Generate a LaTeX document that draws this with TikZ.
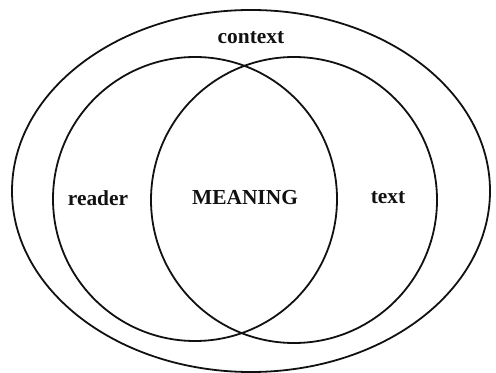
\documentclass[tikz,border=0pt]{standalone}
\usepackage{fontspec}
\setmainfont{Liberation Serif}
\usepackage{xcolor}
\definecolor{inkblack}{HTML}{111111}
\usepackage{tikz}
\usetikzlibrary{positioning}
\tikzset{
  ring/.style ={draw=inkblack, line width=0.9pt},
  vlbl/.style ={font=\fontsize{10.7}{12}\selectfont\bfseries, text=inkblack, inner sep=1pt},
}
\begin{document}
\begin{tikzpicture}[x=0.5pt, y=-0.5pt]
  \useasboundingbox (0,0) rectangle (496,373);
  \draw[ring] (251,191) ellipse [x radius=239, y radius=181];
  \draw[ring] (195,199) circle [radius=142];
  \draw[ring] (294,200) circle [radius=143];
  \node[vlbl] (context) at (251,38) {context};
  \node[vlbl] (reader) at (98,198) {reader};
  \node[vlbl] (meaning) at (245,198) {MEANING};
  \node[vlbl] (text) at (388,198) {text};
\end{tikzpicture}
\end{document}
